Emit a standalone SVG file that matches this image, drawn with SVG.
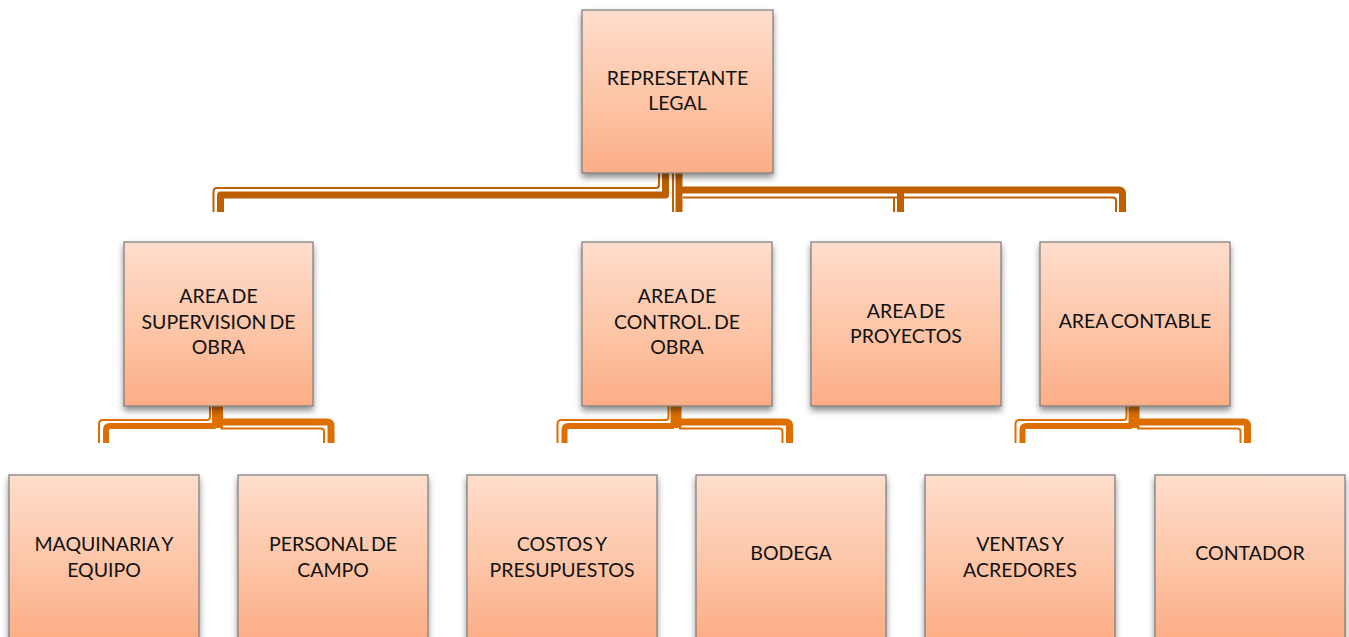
<svg xmlns="http://www.w3.org/2000/svg" xmlns:xlink="http://www.w3.org/1999/xlink" width="1349" height="637" viewBox="0 0 1349 637">
<style>
.box{fill:url(#peach);stroke:#7a7a7a;stroke-width:1.2;filter:url(#sh)}
.t{font-family:Lato,"Liberation Sans",sans-serif;font-size:19.5px;fill:#111;text-anchor:middle;word-spacing:-2px}
.ctop{fill:none;stroke:#BF6000;stroke-linejoin:round}
.clow{fill:none;stroke:#DC6F00;stroke-linejoin:round}
.thick{stroke-width:7}
.thin{stroke-width:2}
</style>
<defs>
<linearGradient id="peach" x1="0" y1="0" x2="0" y2="1">
<stop offset="0" stop-color="#FEDDCC"/>
<stop offset="0.5" stop-color="#FDC7AA"/>
<stop offset="1" stop-color="#FCAE86"/>
</linearGradient>
<filter id="sh" x="-10%" y="-10%" width="120%" height="125%">
<feDropShadow dx="0" dy="4" stdDeviation="3" flood-color="#000" flood-opacity="0.45"/>
</filter>
<g id="lowconn" class="clow">
<path class="thick" d="M0,406 V428" style="stroke-width:11"/>
<path class="thin" d="M-7.5,406 V417 Q-7.5,420 -10.5,420 H-114.5 Q-118.5,420 -118.5,424 V443"/>
<path class="thick" d="M-2,426 H-107.5 Q-111.5,426 -111.5,430 V443" style="stroke-width:6"/>
<path class="thick" d="M2,422 H109.5 Q113.5,422 113.5,426 V443"/>
<path class="thin" d="M3,428.5 H103.5 Q106.5,428.5 106.5,431.5 V443"/>
</g>
</defs>
<rect width="1349" height="637" fill="#fff"/>
<g id="connectors">
<g class="ctop">
<path class="thick" d="M665.5,173 V195 H220.5 V212"/>
<path class="thin" d="M659,173 V185 Q659,188 656,188 H217 Q213.5,188 213.5,192 V212"/>
<path class="thick" d="M679,173 V212"/>
<path class="thick" d="M679,190 H1118.5 Q1122.5,190 1122.5,194 V212"/>
<path class="thick" d="M900.5,190 V212"/>
<path class="thin" d="M673,173 V212"/>
<path class="thin" d="M683,197.5 H1113 Q1116,197.5 1116,200.5 V212"/>
<path class="thin" d="M894,197.5 V212"/>
</g>
<use xlink:href="#lowconn" x="217.5"/>
<use xlink:href="#lowconn" x="676"/>
<use xlink:href="#lowconn" x="1134"/>
</g>
<g id="n-rep"><rect class="box" x="582" y="10" width="191" height="163"/><text class="t" x="677.5" y="85">REPRESETANTE</text><text class="t" x="677.5" y="110">LEGAL</text></g>
<g id="n-sup"><rect class="box" x="124" y="242" width="189" height="164"/><text class="t" x="218.5" y="303">AREA DE</text><text class="t" x="218.5" y="329">SUPERVISION DE</text><text class="t" x="218.5" y="354">OBRA</text></g>
<g id="n-ctl"><rect class="box" x="582" y="242" width="190" height="164"/><text class="t" x="677" y="303">AREA DE</text><text class="t" x="677" y="329">CONTROL. DE</text><text class="t" x="677" y="354">OBRA</text></g>
<g id="n-pro"><rect class="box" x="811" y="242" width="190" height="164"/><text class="t" x="906" y="318">AREA DE</text><text class="t" x="906" y="343">PROYECTOS</text></g>
<g id="n-con"><rect class="box" x="1040" y="242" width="190" height="164"/><text class="t" x="1135" y="328">AREA CONTABLE</text></g>
<g id="n-maq"><rect class="box" x="9" y="475" width="190" height="164"/><text class="t" x="104" y="551">MAQUINARIA Y</text><text class="t" x="104" y="577">EQUIPO</text></g>
<g id="n-per"><rect class="box" x="238" y="475" width="190" height="164"/><text class="t" x="333" y="551">PERSONAL DE</text><text class="t" x="333" y="577">CAMPO</text></g>
<g id="n-cos"><rect class="box" x="467" y="475" width="190" height="164"/><text class="t" x="562" y="551">COSTOS Y</text><text class="t" x="562" y="577">PRESUPUESTOS</text></g>
<g id="n-bod"><rect class="box" x="696" y="475" width="190" height="164"/><text class="t" x="791" y="560">BODEGA</text></g>
<g id="n-ven"><rect class="box" x="925" y="475" width="190" height="164"/><text class="t" x="1020" y="551">VENTAS Y</text><text class="t" x="1020" y="577">ACREDORES</text></g>
<g id="n-cnt"><rect class="box" x="1155" y="475" width="190" height="164"/><text class="t" x="1250" y="560">CONTADOR</text></g>
</svg>
